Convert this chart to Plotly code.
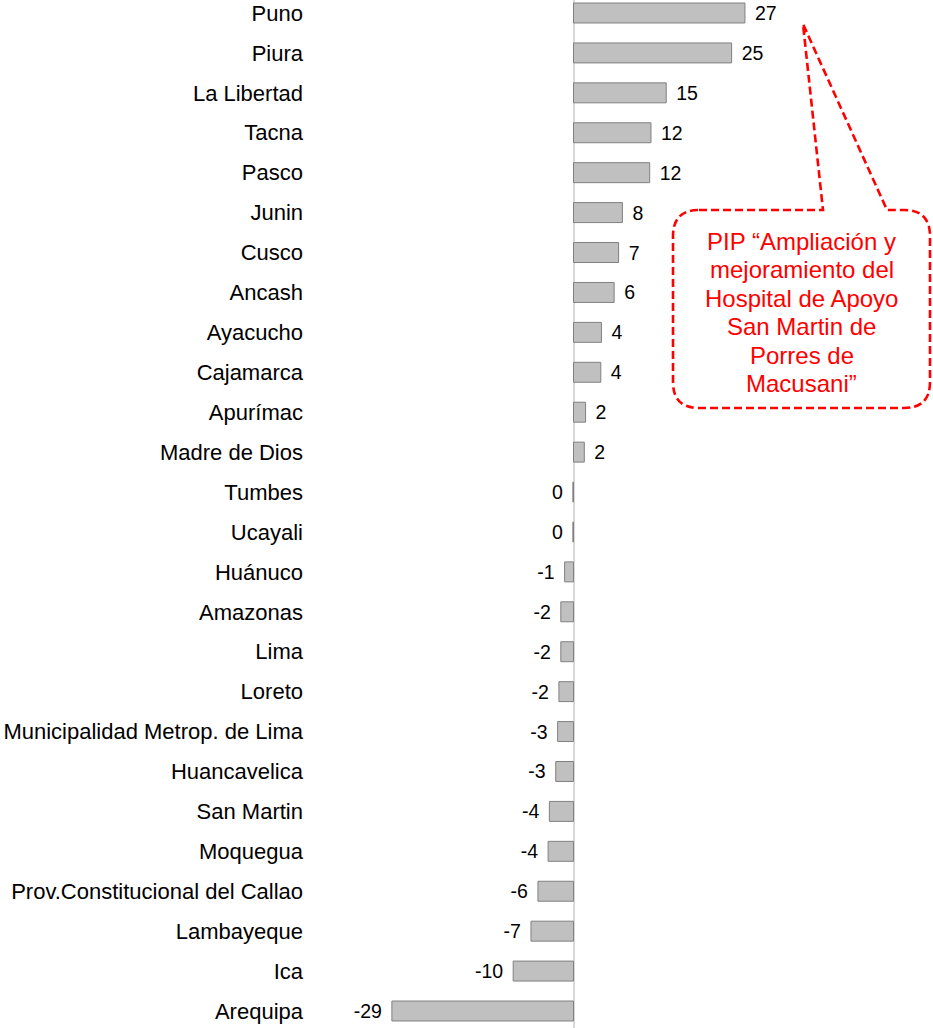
import plotly.graph_objects as go

regions = ["Puno", "Piura", "La Libertad", "Tacna", "Pasco", "Junin", "Cusco", "Ancash",
           "Ayacucho", "Cajamarca", "Apurímac", "Madre de Dios", "Tumbes", "Ucayali",
           "Huánuco", "Amazonas", "Lima", "Loreto", "Municipalidad Metrop. de Lima",
           "Huancavelica", "San Martin", "Moquegua", "Prov.Constitucional del Callao",
           "Lambayeque", "Ica", "Arequipa"]
values = [27.0, 24.9, 14.6, 12.2, 12.0, 7.7, 7.1, 6.4, 4.4, 4.3, 1.9, 1.7, -0.1, -0.1,
          -1.4, -2.0, -2.0, -2.3, -2.5, -2.8, -3.8, -4.0, -5.6, -6.7, -9.5, -28.6]
labels = ["27", "25", "15", "12", "12", "8", "7", "6", "4", "4", "2", "2", "0", "0",
          "-1", "-2", "-2", "-2", "-3", "-3", "-4", "-4", "-6", "-7", "-10", "-29"]

callout_lines = ["PIP “Ampliación y", "mejoramiento del", "Hospital de Apoyo",
                 "San Martin de", "Porres de", "Macusani”"]

W, H = 933, 1028
FONT = "Arial, 'Liberation Sans', sans-serif"

pad = "\u00a0\u200a"
texts = [(pad + t) if v >= 0 else (t + pad) for t, v in zip(labels, values)]

fig = go.Figure(go.Bar(
    x=values, y=regions, orientation="h",
    marker=dict(color="#c0c0c0", line=dict(color="#808080", width=1)),
    text=texts, textposition="outside", cliponaxis=False, constraintext="none",
    textfont=dict(size=19.5, color="#000000", family=FONT),
    hoverinfo="x+y",
))


def px(x, y):
    """screen pixel -> paper coords"""
    return x / W, 1 - y / H


def P(x, y):
    a, b = px(x, y)
    return f"{a:.5f},{b:.5f}"


# callout bubble
x0, x1, y0, y1, r = 673, 930, 210, 408, 26
bl, br, tip = 823, 887, (803, 24)
path = (f"M {P(x0 + r, y0)} L {P(bl, y0)} L {P(*tip)} L {P(br, y0)} L {P(x1 - r, y0)} "
        f"Q {P(x1, y0)} {P(x1, y0 + r)} L {P(x1, y1 - r)} Q {P(x1, y1)} {P(x1 - r, y1)} "
        f"L {P(x0 + r, y1)} Q {P(x0, y1)} {P(x0, y1 - r)} L {P(x0, y0 + r)} "
        f"Q {P(x0, y0)} {P(x0 + r, y0)} Z")
fig.add_shape(type="path", path=path, xref="paper", yref="paper",
              line=dict(color="#ff0000", width=2.6, dash="8px,4px"),
              fillcolor="rgba(255,255,255,0)", layer="above")

for k, line in enumerate(callout_lines):
    cx, cy = px(801.5, 241 + 28.5 * k)
    fig.add_annotation(x=cx, y=cy, xref="paper", yref="paper", showarrow=False,
                       text=line, font=dict(size=24, color="#ff0000", family=FONT),
                       xanchor="center", yanchor="middle")

left_px = 304          # px of plot-area left edge
zero_px, scale = 573.5, 6.35
row0, step = 13.0, 39.92   # px of first category centre, row step
fig.update_layout(
    width=W, height=H,
    margin=dict(l=0, r=0, t=0, b=0),
    paper_bgcolor="white", plot_bgcolor="white",
    showlegend=False, bargap=0.5,
    font=dict(family=FONT, size=22, color="#000000"),
    xaxis=dict(domain=[left_px / W, 1],
               range=[(left_px - zero_px) / scale, (W - zero_px) / scale],
               showticklabels=False, showgrid=False, ticks="",
               zeroline=True, zerolinecolor="#d9d9d9", zerolinewidth=2, fixedrange=True),
    yaxis=dict(type="category",
               range=[(H - row0) / step, (0 - row0) / step],
               showgrid=False, zeroline=False,
               ticks="", showline=False, automargin=False,
               tickfont=dict(size=22, color="#000000", family=FONT)),
)

fig.write_html("out.html", config={"displayModeBar": False},
               post_script="document.body.style.margin='0px';document.body.style.overflow='hidden';")
